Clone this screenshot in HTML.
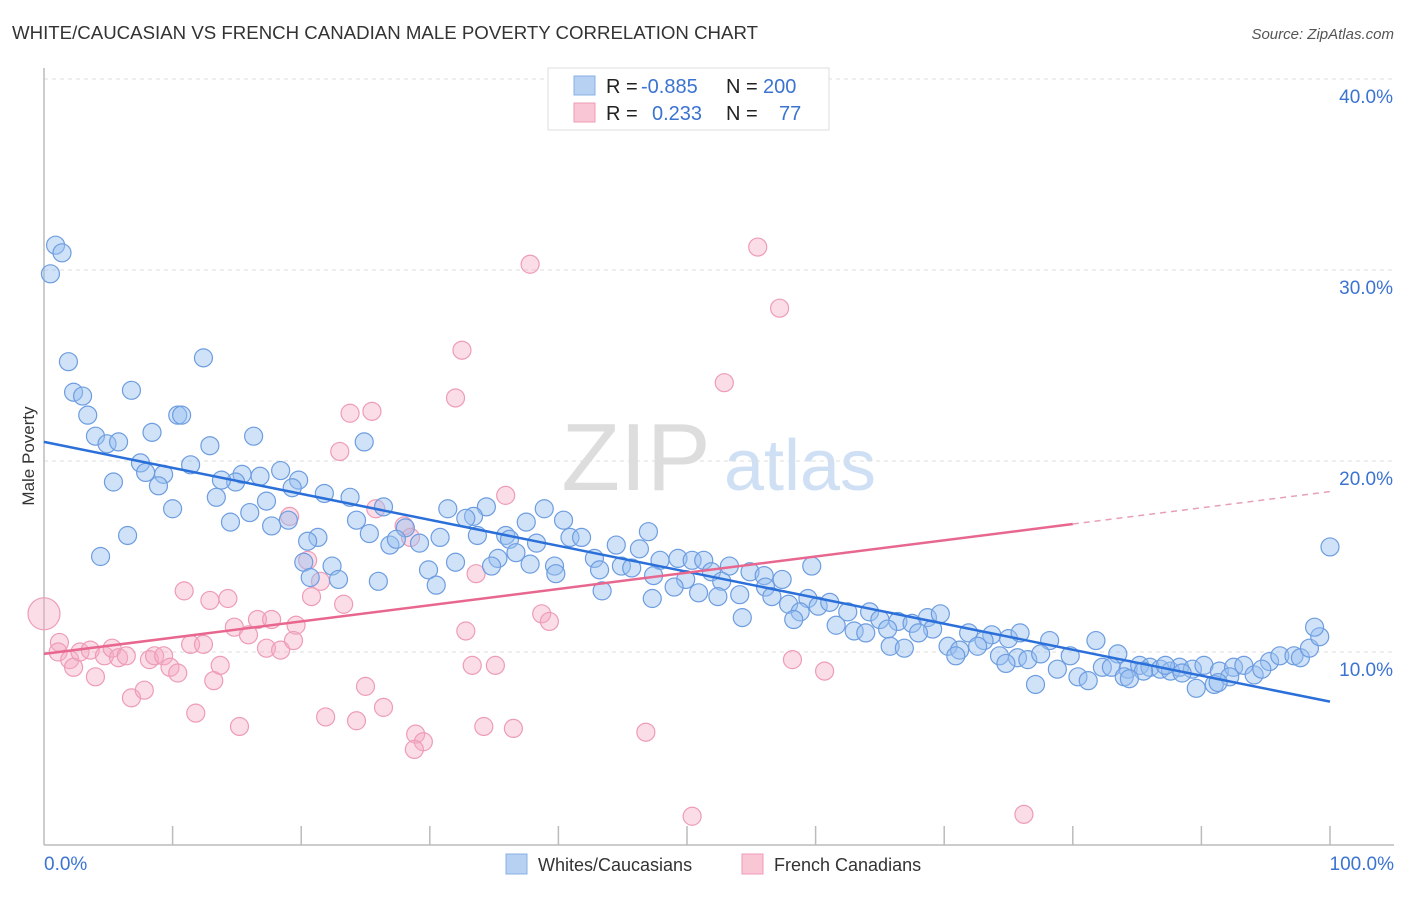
<!DOCTYPE html>
<html><head><meta charset="utf-8"><style>
body{margin:0;background:#fff;font-family:"Liberation Sans",sans-serif;}
svg text{font-family:"Liberation Sans",sans-serif;}
</style></head><body>
<svg id="chart" width="1406" height="892" xmlns="http://www.w3.org/2000/svg">
<text x="12" y="39" font-size="18" fill="#333" textLength="746" lengthAdjust="spacingAndGlyphs">WHITE/CAUCASIAN VS FRENCH CANADIAN MALE POVERTY CORRELATION CHART</text>
<text x="1394" y="39" font-size="15" fill="#555" text-anchor="end" font-style="italic">Source: ZipAtlas.com</text>
<text x="34" y="456" font-size="17" fill="#333" text-anchor="middle" transform="rotate(-90 34 456)">Male Poverty</text>
<g><text x="636" y="490" font-size="96" fill="#ddd" text-anchor="middle" font-family="Liberation Serif">ZIP</text><text x="800" y="490" font-size="72" fill="#cfe0f5" text-anchor="middle">atlas</text></g>
<g id="grid"></g><g id="axes"></g><g id="marks"></g>
<g>
<rect x="548" y="68" width="281" height="62" fill="#fff" stroke="#ddd"/>
<rect x="574" y="76" width="21" height="19" fill="#b7d1f3" stroke="#8ab0e6"/>
<rect x="574" y="103" width="21" height="19" fill="#f9c6d5" stroke="#ee9cb6"/>
<text x="606" y="93" font-size="20" fill="#222">R = <tspan x="641" fill="#3b73d1">-0.885</tspan><tspan x="726">N = </tspan><tspan x="763" fill="#3b73d1">200</tspan></text>
<text x="606" y="120" font-size="20" fill="#222">R = <tspan x="652" fill="#3b73d1">0.233</tspan><tspan x="726">N = </tspan><tspan x="779" fill="#3b73d1">77</tspan></text>
</g>
<g>
<rect x="506" y="854" width="21" height="20" fill="#b7d1f3" stroke="#8ab0e6"/>
<text x="538" y="871" font-size="18" fill="#333">Whites/Caucasians</text>
<rect x="742" y="854" width="21" height="20" fill="#f9c6d5" stroke="#ee9cb6"/>
<text x="774" y="871" font-size="18" fill="#333">French Canadians</text>
</g>
</svg>
<script>
const yTicks=[10,20,30,40];
const yTickLabels=["10.0%","20.0%","30.0%","40.0%"];
const xTicks=[0,10,20,30,40,50,60,70,80,90,100];
const blueX=[0.9,1.4,0.5,1.9,12.4,2.3,3.0,6.8,3.4,10.4,10.7,4.0,4.9,5.8,8.4,12.9,16.3,24.9,7.5,11.4,7.9,9.3,5.4,8.9,15.4,16.8,18.4,14.9,13.8,19.8,19.3,13.4,17.3,21.8,23.8,10.0,16.0,14.5,19.0,17.7,26.4,24.3,28.1,31.4,34.4,33.4,32.8,38.9,37.5,40.4,21.3,20.5,25.3,26.9,27.4,29.2,30.8,33.7,35.9,36.2,38.3,40.9,41.8,47.0,44.5,46.3,6.5,4.4,35.3,36.7,32.0,29.9,42.8,44.9,47.9,49.3,50.4,51.3,51.9,53.3,54.9,56.0,37.8,39.7,39.8,43.2,45.7,34.8,59.7,20.2,22.4,20.7,22.9,26.0,30.5,43.4,47.4,49.9,52.7,56.1,57.4,56.6,54.1,52.4,50.9,49.0,47.3,57.9,59.4,60.2,61.1,62.5,64.2,58.8,58.3,61.6,65.0,66.4,67.5,68.7,69.7,54.3,69.1,63.0,63.9,65.6,68.0,71.9,73.7,75.0,75.9,73.1,65.8,66.9,70.3,71.2,72.6,70.9,74.3,75.7,78.2,79.8,81.8,83.5,76.5,77.5,74.8,78.8,80.4,81.2,82.3,83.0,84.3,85.2,86.0,86.8,87.6,88.3,89.3,90.2,91.4,92.5,93.3,94.1,95.3,96.1,97.2,97.7,98.4,99.2,100,77.1,89.6,91.0,92.2,84.0,85.5,88.5,91.3,94.7,87.2,84.4,98.8];
const blueY=[31.3,30.9,29.8,25.2,25.4,23.6,23.4,23.7,22.4,22.4,22.4,21.3,20.9,21.0,21.5,20.8,21.3,21.0,19.9,19.8,19.4,19.3,18.9,18.7,19.3,19.2,19.5,18.9,19.0,19.0,18.6,18.1,17.9,18.3,18.1,17.5,17.3,16.8,16.9,16.6,17.6,16.9,16.5,17.5,17.6,17.1,17.0,17.5,16.8,16.9,16.0,15.8,16.2,15.6,15.9,15.7,16.0,16.1,16.1,15.9,15.7,16.0,16.0,16.3,15.6,15.4,16.1,15.0,14.9,15.2,14.7,14.3,14.9,14.5,14.8,14.9,14.8,14.8,14.2,14.5,14.2,14.0,14.6,14.5,14.1,14.3,14.4,14.5,14.5,14.7,14.5,13.9,13.8,13.7,13.5,13.2,14.0,13.8,13.7,13.4,13.8,12.9,13.0,12.9,13.1,13.4,12.8,12.5,12.8,12.4,12.6,12.1,12.1,12.1,11.7,11.4,11.7,11.6,11.5,11.8,12.0,11.8,11.2,11.1,11.0,11.2,11.0,11.0,10.9,10.7,11.0,10.6,10.3,10.2,10.3,10.1,10.3,9.8,9.8,9.7,10.6,9.8,10.6,9.9,9.6,9.9,9.4,9.1,8.7,8.5,9.2,9.2,9.1,9.3,9.2,9.1,9.0,9.2,9.1,9.3,9.0,9.2,9.3,8.8,9.5,9.8,9.8,9.7,10.2,10.8,15.5,8.3,8.1,8.3,8.7,8.7,9.0,8.9,8.4,9.1,9.3,8.6,11.3];
const pinkX=[0,1.2,1.1,2.0,2.3,2.8,3.6,4.0,4.7,5.3,5.8,6.4,6.8,7.8,8.2,8.6,9.3,9.8,10.4,10.9,11.4,11.8,12.4,12.9,13.2,13.7,14.3,14.8,15.2,15.9,16.6,17.3,17.7,18.4,19.1,19.6,19.4,20.5,20.8,21.5,21.9,23.0,23.3,23.8,24.3,25.0,25.5,25.8,26.4,28.0,28.5,28.9,29.5,28.8,32.0,32.5,32.8,33.3,33.6,34.2,35.1,35.9,36.5,37.8,38.7,39.3,46.8,50.4,52.9,55.5,57.2,58.2,60.7,76.2];
const pinkY=[12.0,10.5,10.0,9.6,9.2,10.0,10.1,8.7,9.8,10.2,9.7,9.8,7.6,8.0,9.6,9.8,9.8,9.2,8.9,13.2,10.4,6.8,10.4,12.7,8.5,9.3,12.8,11.3,6.1,10.9,11.7,10.2,11.7,10.1,17.1,11.4,10.6,14.8,12.9,13.7,6.6,20.5,12.5,22.5,6.4,8.2,22.6,17.5,7.1,16.6,16.0,5.7,5.3,4.9,23.3,25.8,11.1,9.3,14.1,6.1,9.3,18.2,6.0,30.3,12.0,11.6,5.8,1.4,24.1,31.2,28.0,9.6,9.0,1.5];
const blueTrend=[21.0,7.4];
const pinkTrend=[9.9,18.4];
const pinkSolidEnd=80;
const NS="http://www.w3.org/2000/svg";
const X0=44,X1=1330,Y0=843,PX10=19.1;
function sx(v){return X0+(X1-X0)*v/100;}
function sy(v){return Y0-PX10*v;}
function mk(parent,tag,attrs){const e=document.createElementNS(NS,tag);for(const k in attrs)e.setAttribute(k,attrs[k]);parent.appendChild(e);return e;}
const grid=document.getElementById('grid'),axes=document.getElementById('axes'),marks=document.getElementById('marks');
yTicks.forEach((t,i)=>{
  const l=mk(grid,'line',{x1:44,x2:1394,y1:sy(t),y2:sy(t),stroke:'#ddd','stroke-dasharray':'4,4'});
  
  
  const tx=mk(axes,'text',{x:1393,y:sy(t)+24,'font-size':19,fill:'#3b73d1','text-anchor':'end'});
  tx.textContent=yTickLabels[i];
  
  
});
const al=mk(axes,'line',{x1:44,x2:44,y1:68,y2:845,stroke:'#bbb','stroke-width':1.5});


const bl=mk(axes,'line',{x1:44,x2:1394,y1:845,y2:845,stroke:'#bbb','stroke-width':1.5});


xTicks.forEach(t=>{if(t===0)return;
  const l=mk(axes,'line',{x1:sx(t),x2:sx(t),y1:826,y2:845,stroke:'#bbb','stroke-width':1.5});
  
  
});
const xl0=mk(axes,'text',{x:44,y:870,'font-size':19,fill:'#3b73d1'});xl0.textContent='0.0%';


const xl1=mk(axes,'text',{x:1394,y:870,'font-size':19,fill:'#3b73d1','text-anchor':'end'});xl1.textContent='100.0%';


pinkX.forEach((x,i)=>{
  const c=mk(marks,'circle',{cx:sx(x),cy:sy(pinkY[i]),r:i===0?16:9,fill:'rgba(246,170,195,0.4)',stroke:'#ee9cb6','stroke-width':1.2});
  
  
});
blueX.forEach((x,i)=>{
  const c=mk(marks,'circle',{cx:sx(x),cy:sy(blueY[i]),r:9,fill:'rgba(150,190,240,0.45)',stroke:'#6d9de0','stroke-width':1.2});
  
  
});
const bt=mk(marks,'line',{x1:sx(0),y1:sy(blueTrend[0]),x2:sx(100),y2:sy(blueTrend[1]),stroke:'#2b6fd9','stroke-width':2.5});


const pm=pinkTrend[0]+(pinkTrend[1]-pinkTrend[0])*pinkSolidEnd/100;
const pt=mk(marks,'line',{x1:sx(0),y1:sy(pinkTrend[0]),x2:sx(pinkSolidEnd),y2:sy(pm),stroke:'#e8678f','stroke-width':2.5});


const pd=mk(marks,'line',{x1:sx(pinkSolidEnd),y1:sy(pm),x2:sx(100),y2:sy(pinkTrend[1]),stroke:'#e8a0b8','stroke-width':1.5,'stroke-dasharray':'6,5'});


</script>
</body></html>
